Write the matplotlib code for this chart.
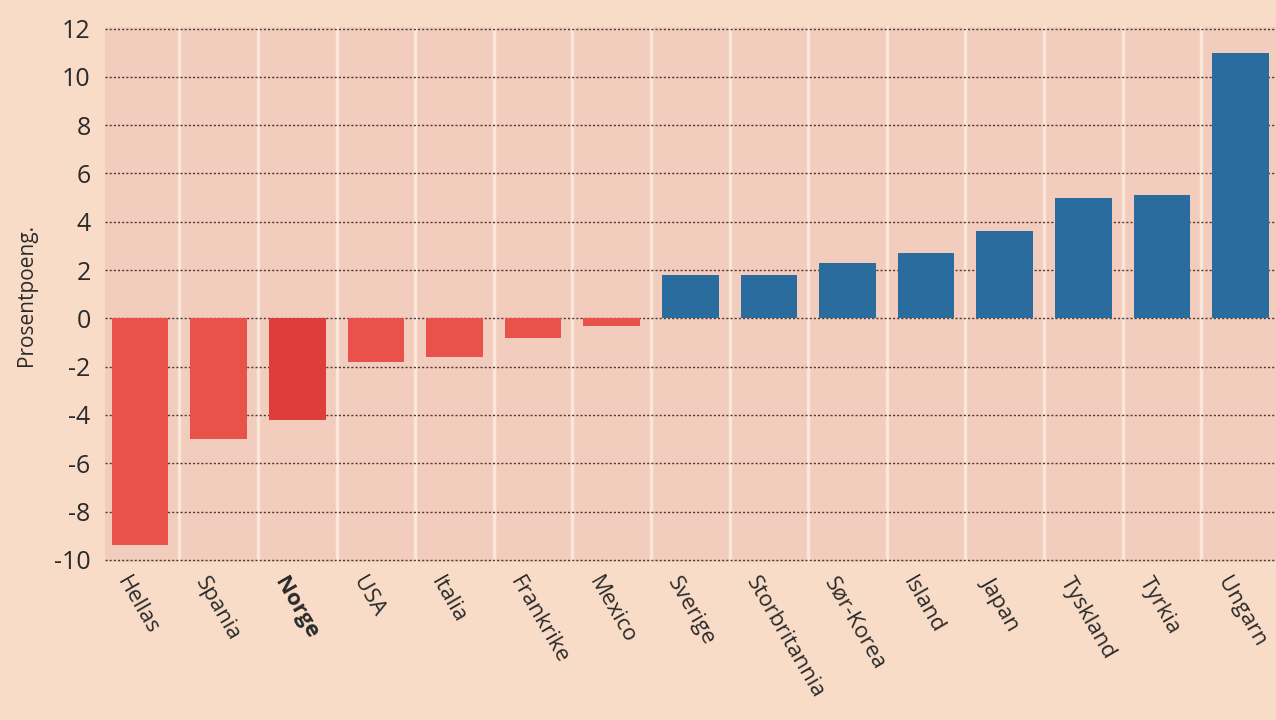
import matplotlib.pyplot as plt
import numpy as np

# --- data ---
countries = ["Hellas", "Spania", "Norge", "USA", "Italia", "Frankrike", "Mexico",
             "Sverige", "Storbritannia", "Sør-Korea", "Island", "Japan",
             "Tyskland", "Tyrkia", "Ungarn"]
values = [-9.4, -5.0, -4.2, -1.8, -1.6, -0.8, -0.3,
          1.8, 1.8, 2.3, 2.7, 3.6, 5.0, 5.1, 11.0]
yticks = [12, 10, 8, 6, 4, 2, 0, -2, -4, -6, -8, -10]

# --- colours ---
BG = "#f9dcc8"
PLOT_BG = "#f2ccbd"
RED = "#e9524b"
RED_DARK = "#de3d3c"
BLUE = "#2b6c9f"

plt.rcParams['font.family'] = ['Open Sans', 'DejaVu Sans']

fig = plt.figure(figsize=(12.76, 7.2), dpi=100, facecolor=BG)
ax = fig.add_axes([0.082, 0.219, 0.918, 0.743])
ax.set_facecolor(PLOT_BG)

x = np.arange(len(countries))
colors = []
for c, v in zip(countries, values):
    if c == "Norge":
        colors.append(RED_DARK)
    elif v < 0:
        colors.append(RED)
    else:
        colors.append(BLUE)

ax.bar(x, values, width=0.72, color=colors, zorder=3)

# vertical white separators between columns
for xi in np.arange(-0.5, len(countries) + 0.5, 1):
    ax.axvline(xi, color="#fbe7da", linewidth=2.5, zorder=1)

# dotted horizontal gridlines
for yv in yticks:
    ax.axhline(yv, color="#4a3a35", linestyle=(0, (1.5, 1.5)), linewidth=1.0, zorder=2)

ax.set_xlim(-0.45, len(countries) - 0.55)
ax.set_ylim(-10.1, 12.05)
ax.set_yticks(yticks)
ax.set_yticklabels([str(t) for t in yticks], fontsize=18, color="#2a2a2a")
ax.tick_params(axis='y', length=0, pad=10)

ax.set_xticks(x - 0.12)
ax.set_xticklabels(countries, rotation=-60, ha='left', va='top',
                   rotation_mode='anchor', fontsize=16, color="#2a2a2a")
ax.tick_params(axis='x', length=0, pad=8)
for lbl in ax.get_xticklabels():
    if lbl.get_text() == "Norge":
        lbl.set_fontweight('bold')

ax.set_ylabel("Prosentpoeng.", fontsize=15, color="#2a2a2a", labelpad=12)

for s in ax.spines.values():
    s.set_visible(False)

fig.savefig("out.png", dpi=100, facecolor=BG)
